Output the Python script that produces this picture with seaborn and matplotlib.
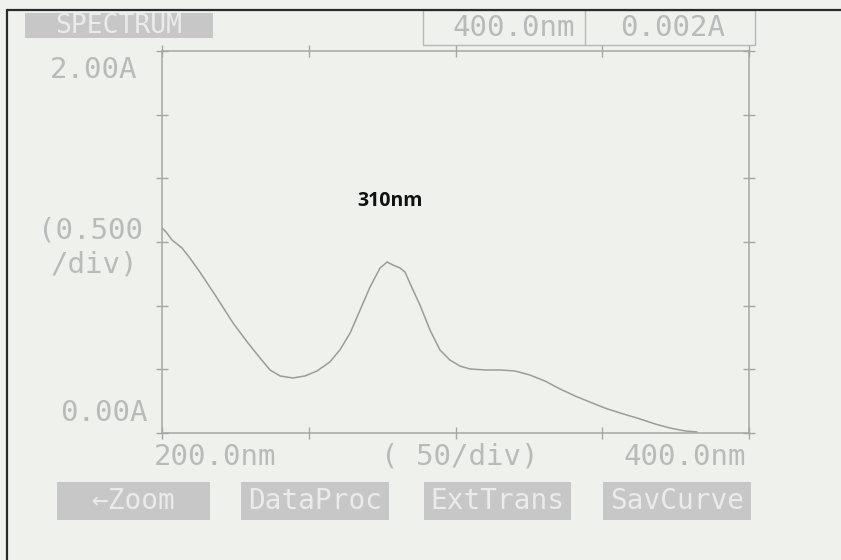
import matplotlib
matplotlib.use("Agg")
import matplotlib.pyplot as plt
from matplotlib.patches import Rectangle
from matplotlib.lines import Line2D
import pandas as pd
import seaborn as sns

# ---- data ----
wavelength_nm = [200.0, 201.4, 203.4, 206.8, 209.5, 212.9, 218.1, 224.2, 229.3, 233.4,
                 236.8, 240.2, 244.6, 248.7, 252.8, 257.2, 260.6, 264.1, 267.5, 270.9,
                 274.3, 276.7, 278.7, 281.1, 282.8, 285.2, 287.9, 291.3, 294.7, 298.1,
                 301.5, 304.9, 310.1, 315.2, 320.3, 325.4, 330.5, 335.6, 340.7, 345.8,
                 350.9, 356.1, 362.9, 368.0, 373.1, 378.2, 382.3]
absorbance = [1.610, 1.578, 1.516, 1.453, 1.374, 1.264, 1.084, 0.864, 0.707, 0.589,
              0.495, 0.448, 0.432, 0.448, 0.487, 0.558, 0.652, 0.785, 0.966, 1.147,
              1.296, 1.343, 1.319, 1.296, 1.264, 1.139, 1.005, 0.809, 0.652, 0.573,
              0.526, 0.503, 0.495, 0.495, 0.487, 0.455, 0.408, 0.346, 0.291, 0.243,
              0.196, 0.157, 0.110, 0.071, 0.039, 0.016, 0.008]

x_ticks = [200, 250, 300, 350, 400]
y_ticks = [0.0, 0.5, 1.0, 1.5, 2.0, 2.5, 3.0]
y_axis_texts = ["2.00A", "(0.500", "/div)", "0.00A"]
x_axis_texts = ["200.0nm", "( 50/div)", "400.0nm"]
header_texts = ["400.0nm", "0.002A"]
mode_text = "SPECTRUM"
button_texts = ["\u2190Zoom", "DataProc", "ExtTrans", "SavCurve"]
peak_text = "310nm"

# ---- style ----
sns.set_theme(style="white")
plt.rcParams["font.family"] = ["DejaVu Sans Mono", "DejaVu Sans"]

BG = "#eff1ed"
LCD_TEXT = "#bababa"
LINE = "#a6a6a6"
CURVE = "#9c9c9c"
BTN_FILL = "#c7c7c7"
BTN_TEXT = "#ebebeb"

W, H = 841, 560
fig = plt.figure(figsize=(W / 100, H / 100), dpi=100, facecolor=BG)


def fp(x, y):
    return x / W, 1 - y / H


left, right, top, bottom = 162, 749, 51, 433
ax = fig.add_axes([left / W, 1 - bottom / H, (right - left) / W, (bottom - top) / H])
ax.set_facecolor(BG)

df = pd.DataFrame({"nm": wavelength_nm, "A": absorbance})
sns.lineplot(data=df, x="nm", y="A", ax=ax, color=CURVE, linewidth=1.1)

ax.set_xlim(x_ticks[0], x_ticks[-1])
ax.set_ylim(y_ticks[0], y_ticks[-1])
ax.set_xticks(x_ticks)
ax.set_yticks(y_ticks)
ax.set_xlabel("")
ax.set_ylabel("")
ax.tick_params(axis="both", which="both", direction="inout", length=9, width=1,
               color=LINE, top=True, right=True, bottom=True, left=True,
               labelbottom=False, labelleft=False)
for s in ax.spines.values():
    s.set_visible(True)
    s.set_color(LINE)
    s.set_linewidth(1.1)

# peak annotation
ax.text(277.8, 1.82, peak_text, ha="center", va="center", fontsize=14,
        fontweight="bold", color="#111111", family=["Open Sans", "DejaVu Sans"])

FS = 21
# y-axis texts
fig.text(*fp(137, 70), y_axis_texts[0], ha="right", va="center", fontsize=FS, color=LCD_TEXT)
fig.text(*fp(143, 230), y_axis_texts[1], ha="right", va="center", fontsize=FS, color=LCD_TEXT)
fig.text(*fp(138, 264), y_axis_texts[2], ha="right", va="center", fontsize=FS, color=LCD_TEXT)
fig.text(*fp(148, 413), y_axis_texts[3], ha="right", va="center", fontsize=FS, color=LCD_TEXT)

# x-axis texts
for t, cx in zip(x_axis_texts, [215, 460, 685]):
    fig.text(*fp(cx, 457), t, ha="center", va="center", fontsize=FS, color=LCD_TEXT)

# header box
x0, x1, xm, y0, y1 = 423, 755, 585, 10, 45
fig.add_artist(Rectangle(fp(x0, y1), (x1 - x0) / W, (y1 - y0) / H,
                         transform=fig.transFigure, facecolor="none",
                         edgecolor="#b8b8b8", linewidth=1.0))
fig.add_artist(Line2D([xm / W, xm / W], [1 - y0 / H, 1 - y1 / H],
                      transform=fig.transFigure, color="#b8b8b8", linewidth=1.0))
fig.text(*fp(514, 28), header_texts[0], ha="center", va="center", fontsize=FS, color=LCD_TEXT)
fig.text(*fp(673, 28), header_texts[1], ha="center", va="center", fontsize=FS, color=LCD_TEXT)

# mode banner
fig.add_artist(Rectangle(fp(25, 38), (213 - 25) / W, 25 / H, transform=fig.transFigure,
                         facecolor=BTN_FILL, edgecolor="none"))
fig.text(*fp(119, 26), mode_text, ha="center", va="center", fontsize=FS - 2, color=BTN_TEXT)

# buttons
for t, (bx0, bx1) in zip(button_texts, [(57, 210), (241, 389), (424, 571), (603, 751)]):
    fig.add_artist(Rectangle(fp(bx0, 520), (bx1 - bx0) / W, 38 / H, transform=fig.transFigure,
                             facecolor=BTN_FILL, edgecolor="none"))
    fig.text(*fp((bx0 + bx1) / 2, 501), t, ha="center", va="center", fontsize=FS - 1,
             color=BTN_TEXT)

# photo frame edges
fig.add_artist(Line2D([7 / W, 7 / W], [1 - 10 / H, 0], transform=fig.transFigure,
                      color="#2a2a2a", linewidth=1.6))
fig.add_artist(Line2D([7 / W, 1], [1 - 10 / H, 1 - 10 / H], transform=fig.transFigure,
                      color="#2a2a2a", linewidth=1.6))

fig.savefig("out.png", dpi=100, facecolor=BG)
